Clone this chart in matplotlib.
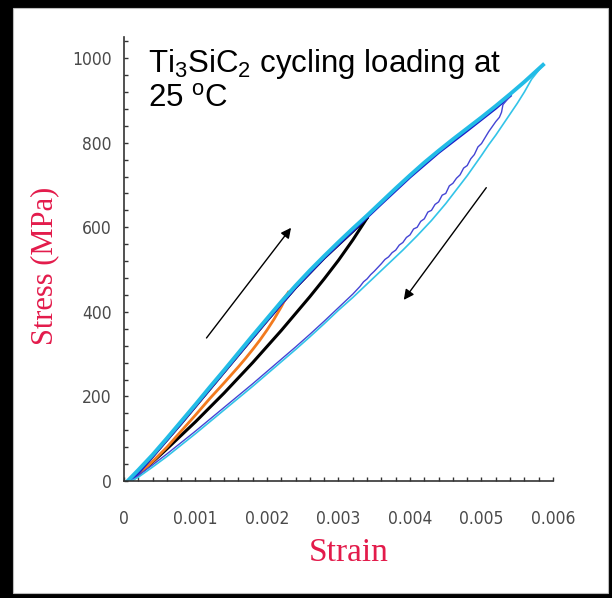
import matplotlib
matplotlib.use('Agg')
import matplotlib.pyplot as plt
from matplotlib.patches import Rectangle
from matplotlib.ticker import MultipleLocator

plt.rcParams['mathtext.default'] = 'regular'

# loading envelope (thick cyan)
env_strain = [0.00005, 0.0002, 0.0004, 0.0006, 0.0008, 0.0010, 0.0012, 0.0014, 0.0016, 0.0018,
              0.0020, 0.0022, 0.0024, 0.0026, 0.0028, 0.0030, 0.0032, 0.0034, 0.0036, 0.0038,
              0.0040, 0.0042, 0.0044, 0.0046, 0.0048, 0.0050, 0.0052, 0.0054, 0.0056, 0.00586]
env_stress = [0, 26, 62, 101, 141, 181, 222, 262, 303, 344,
              384, 424, 462, 498, 532, 565, 597, 628, 660, 692,
              723, 753, 781, 808, 834, 860, 887, 915, 944, 984]

# unloading of the big cycle (thin cyan)
cyan_dn_strain = [0.00586, 0.0057, 0.0056, 0.0055, 0.0054, 0.0053, 0.0052, 0.0051, 0.0050, 0.0049,
                  0.0048, 0.0047, 0.0046, 0.0045, 0.0044, 0.0043, 0.0042, 0.0041, 0.0040, 0.0039,
                  0.0038, 0.0037, 0.0036, 0.0035, 0.0034, 0.0033, 0.0032, 0.0031, 0.0030, 0.0028,
                  0.0026, 0.0024, 0.0022, 0.0020, 0.0018, 0.0016, 0.0014, 0.0012, 0.0010, 0.0008,
                  0.0006, 0.0004, 0.0002, 0.0001]
cyan_dn_stress = [984, 950, 920, 893, 868, 843, 818, 795, 770, 746,
                  722, 700, 678, 656, 636, 616, 598, 580, 563, 546,
                  530, 514, 498, 482, 466, 450, 434, 419, 404, 372,
                  341, 311, 282, 253, 224, 196, 168, 140, 112, 85,
                  58, 33, 9, 0]

# blue cycle
blue_up_strain = [0.0001, 0.0004, 0.0008, 0.0012, 0.0016, 0.0020, 0.0024, 0.0028, 0.0032, 0.0036,
                  0.0040, 0.0044, 0.0048, 0.0052, 0.0054]
blue_up_stress = [0, 58, 137, 218, 299, 380, 458, 528, 592, 656,
                  719, 777, 829, 882, 911]
blue_dn_strain = [0.0054, 0.00535, 0.0053, 0.00528, 0.00525, 0.0052, 0.00515, 0.0051, 0.00505, 0.0050,
                  0.00495, 0.0049, 0.00485, 0.0048, 0.00475, 0.0047, 0.00465, 0.0046, 0.00455, 0.0045,
                  0.00445, 0.0044, 0.00435, 0.0043, 0.00425, 0.0042, 0.00415, 0.0041, 0.00405, 0.0040,
                  0.00395, 0.0039, 0.00385, 0.0038, 0.00375, 0.0037, 0.00365, 0.0036, 0.00355, 0.0035,
                  0.00345, 0.0034, 0.00335, 0.0033, 0.0032, 0.0031, 0.0030, 0.0028, 0.0026, 0.0024,
                  0.0022, 0.0020, 0.0018, 0.0016, 0.0014, 0.0012, 0.0010, 0.0008, 0.0006, 0.0004,
                  0.0002, 0.0001]
blue_dn_stress = [911, 900, 890, 872, 860, 850, 838, 826, 812, 798,
                  790, 772, 762, 746, 740, 724, 716, 704, 698, 680,
                  676, 660, 654, 640, 636, 620, 614, 600, 596, 582,
                  576, 564, 558, 546, 540, 530, 524, 514, 505, 496,
                  488, 478, 471, 460, 442, 426, 410, 378, 347, 317,
                  288, 259, 230, 202, 174, 146, 118, 91, 64, 38,
                  13, 0]

# black cycle
black_up_strain = [0.0001, 0.0004, 0.0008, 0.0012, 0.0016, 0.0020, 0.0024, 0.0028, 0.0032, 0.0034]
black_up_stress = [0, 58, 136, 217, 298, 379, 457, 527, 590, 622]
black_dn_strain = [0.0034, 0.0033, 0.0032, 0.0030, 0.0028, 0.0026, 0.0024, 0.0022, 0.0020, 0.0018,
                   0.0016, 0.0014, 0.0012, 0.0010, 0.0008, 0.0006, 0.0004, 0.0002, 0.0001]
black_dn_stress = [622, 596, 570, 522, 478, 436, 396, 356, 318, 280,
                   244, 208, 174, 140, 108, 76, 45, 15, 0]

# orange cycle
orange_up_strain = [0.0001, 0.0004, 0.0008, 0.0012, 0.0016, 0.0020, 0.0023]
orange_up_stress = [0, 58, 137, 218, 299, 380, 446]
orange_dn_strain = [0.0023, 0.00225, 0.0022, 0.0021, 0.0020, 0.0019, 0.0018, 0.0017, 0.0016, 0.0014,
                    0.0012, 0.0010, 0.0008, 0.0006, 0.0004, 0.0002, 0.0001]
orange_dn_stress = [446, 428, 412, 383, 357, 333, 311, 290, 270, 232,
                    195, 156, 118, 80, 46, 15, 0]

W, H = 612, 598
fig = plt.figure(figsize=(W / 100, H / 100), dpi=100)
fig.patch.set_facecolor('black')
fig.patches.append(Rectangle((13 / W, 5 / H), (608 - 13) / W, (590 - 5) / H,
                             transform=fig.transFigure, facecolor='white',
                             edgecolor='#bbbbbb', linewidth=0.8, zorder=-5))

ax = fig.add_axes([124 / W, 1 - 481 / H, (553 - 124) / W, (481 - 37) / H])
ax.set_zorder(2)
ax.set_facecolor('none')

ax.plot(black_up_strain, black_up_stress, color='black', lw=2)
ax.plot(black_dn_strain, black_dn_stress, color='black', lw=2.2)
ax.plot(orange_up_strain, orange_up_stress, color='#f27a1e', lw=2)
ax.plot(orange_dn_strain, orange_dn_stress, color='#f27a1e', lw=2)
ax.plot(blue_up_strain, blue_up_stress, color='#1c1cc8', lw=2.2)
ax.plot(blue_dn_strain, blue_dn_stress, color='#4444d4', lw=1)
ax.plot(cyan_dn_strain, cyan_dn_stress, color='#33c4e8', lw=1.2)
ax.plot(env_strain, env_stress, color='#22bce6', lw=2.8)

ax.annotate('', xy=(0.00236, 604), xytext=(0.00113, 333),
            arrowprops=dict(arrowstyle='-|>', color='black', lw=1, mutation_scale=15))
ax.annotate('', xy=(0.00389, 423), xytext=(0.00509, 699),
            arrowprops=dict(arrowstyle='-|>', color='black', lw=1, mutation_scale=15))

ax.set_xlim(0, 0.006)
ax.set_ylim(0, 1050)
ax.xaxis.set_minor_locator(MultipleLocator(0.0002))
ax.yaxis.set_minor_locator(MultipleLocator(40))
ax.set_xticks([0, 0.001, 0.002, 0.003, 0.004, 0.005, 0.006])
ax.set_xticklabels(['0', '0.001', '0.002', '0.003', '0.004', '0.005', '0.006'])
ax.set_yticks([0, 200, 400, 600, 800, 1000])
ax.set_yticklabels(['0', '200', '400', '600', '800', '1000'])

for s in ['top', 'right']:
    ax.spines[s].set_visible(False)
for s in ['left', 'bottom']:
    ax.spines[s].set_color('#333333')
    ax.spines[s].set_linewidth(1.2)

ax.tick_params(which='both', direction='in', length=3, width=1, color='#333333')
ax.tick_params(axis='x', which='major', pad=21)
ax.tick_params(axis='y', which='major', pad=9)
for lab in ax.get_xticklabels() + ax.get_yticklabels():
    lab.set_family(['DejaVu Sans', 'Liberation Sans'])
    lab.set_stretch('condensed')
    lab.set_fontsize(12.5)
    lab.set_color('#4a4a4a')

red = '#e31b4b'
fig.text(349 / W, 1 - 553 / H, 'Strain', ha='center', va='center', color=red,
         family=['Liberation Serif', 'DejaVu Serif'], fontsize=24)
fig.text(45 / W, 1 - 266 / H, 'Stress (MPa)', ha='center', va='center', color=red,
         rotation=90, family=['Liberation Serif', 'DejaVu Serif'], fontsize=22)

fig.text(148 / W, 1 - 72 / H, 'Ti$_3$SiC$_2$ cycling loading at', ha='left', va='baseline',
         family=['Liberation Sans', 'DejaVu Sans'], fontsize=22.5, color='black')
fig.text(148 / W, 1 - 107 / H, '25 $^o$C', ha='left', va='baseline',
         family=['Liberation Sans', 'DejaVu Sans'], fontsize=22.5, color='black')

fig.savefig('out.png', dpi=100, facecolor=fig.get_facecolor())
